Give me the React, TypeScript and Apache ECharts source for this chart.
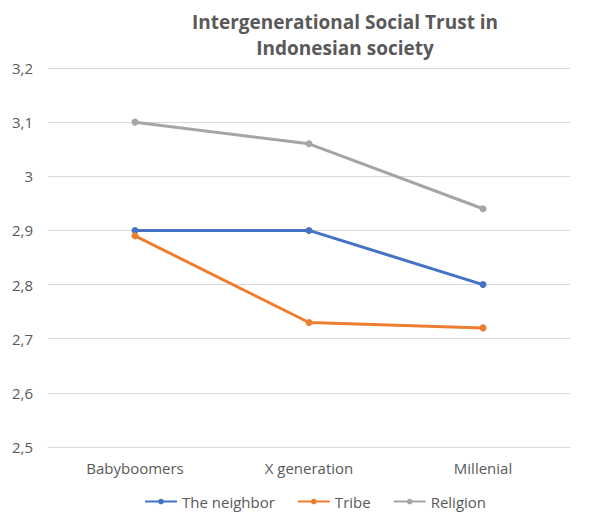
import React, { useEffect, useRef } from "react";
import * as echarts from "echarts";

const categories = ["Babyboomers", "X generation", "Millenial"];
const neighbor = [2.9, 2.9, 2.8];
const tribe = [2.89, 2.73, 2.72];
const religion = [3.1, 3.06, 2.94];
const titleLines = ["Intergenerational Social Trust in", "Indonesian society"];

const FONT = "'Open Sans', 'Liberation Sans', sans-serif";

export default function App() {
  const ref = useRef<HTMLDivElement>(null);
  useEffect(() => {
    if (!ref.current) return;
    const chart = echarts.init(ref.current, null, { renderer: "svg" });
    const mk = (name: string, data: number[], color: string) => ({
      name,
      type: "line",
      data,
      symbol: "circle",
      symbolSize: 7,
      lineStyle: { color, width: 3 },
      itemStyle: { color },
      color,
    });
    chart.setOption({
      animation: false,
      textStyle: { fontFamily: FONT },
      graphic: [
        {
          type: "text",
          x: 345,
          y: 9,
          style: {
            text: titleLines.join("\n"),
            align: "center",
            textAlign: "center",
            fontFamily: FONT,
            fontSize: 19,
            fontWeight: "bold",
            fill: "#595959",
            lineHeight: 26,
          },
        },
      ],
      grid: { left: 48, right: 25, top: 68, bottom: 68 },
      legend: {
        bottom: 1,
        left: 139,
        itemWidth: 32,
        itemHeight: 7,
        itemGap: 22,
        textStyle: { color: "#595959", fontSize: 15, fontFamily: FONT },
        data: ["The neighbor", "Tribe", "Religion"],
      },
      xAxis: {
        type: "category",
        data: categories,
        boundaryGap: true,
        axisLine: { lineStyle: { color: "#d9d9d9" } },
        axisTick: { show: false },
        axisLabel: { color: "#595959", fontSize: 15, margin: 13, fontFamily: FONT },
      },
      yAxis: {
        type: "value",
        min: 2.5,
        max: 3.2,
        interval: 0.1,
        axisLine: { show: false },
        axisTick: { show: false },
        splitLine: { lineStyle: { color: "#d9d9d9" } },
        axisLabel: {
          color: "#595959",
          fontSize: 15,
          margin: 15,
          fontFamily: FONT,
          formatter: (v: number) => String(Number(v.toFixed(1))).replace(".", ","),
        },
      },
      series: [
        mk("The neighbor", neighbor, "#4472C4"),
        mk("Tribe", tribe, "#ED7D31"),
        mk("Religion", religion, "#A5A5A5"),
      ],
    });
    return () => chart.dispose();
  }, []);
  return (
    <div
      ref={ref}
      style={{ position: "absolute", left: 0, top: 0, width: 595, height: 515, background: "#fff" }}
    />
  );
}
